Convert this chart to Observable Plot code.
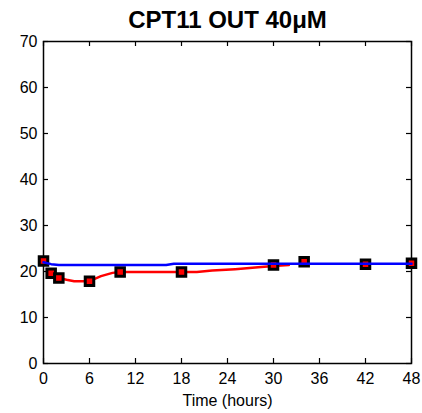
<!DOCTYPE html>
<html>
<head>
<meta charset="utf-8">
<script src="https://cdn.jsdelivr.net/npm/d3@7"></script>
<script src="https://cdn.jsdelivr.net/npm/@observablehq/plot@0.6"></script>
<style>
  html, body { margin: 0; padding: 0; background: #fff; }
</style>
</head>
<body>
<div id="chart"></div>
<script>
const title = "CPT11 OUT 40μM";
const xLabel = "Time (hours)";
const xTicks = [0, 6, 12, 18, 24, 30, 36, 42, 48];
const yTicks = [0, 10, 20, 30, 40, 50, 60, 70];

// measured points (red squares)
const pointTime = [0, 1, 2, 6, 10, 18, 30, 34, 42, 48];
const pointValue = [22.3, 19.6, 18.6, 17.9, 19.9, 19.9, 21.4, 22.1, 21.6, 21.8];

// red fitted curve
const redTime = [1, 2, 3, 4, 6, 7.5, 9, 10, 20, 22, 25, 28, 30, 32];
const redValue = [19.6, 18.6, 18.2, 17.9, 17.9, 19.0, 19.7, 19.9, 19.9, 20.2, 20.5, 20.9, 21.2, 21.4];

// blue curve
const blueTime = [0, 1, 2, 16, 17, 48];
const blueValue = [22.0, 21.6, 21.4, 21.4, 21.7, 21.7];

const points = pointTime.map((t, i) => ({t, v: pointValue[i]}));
const red = redTime.map((t, i) => ({t, v: redValue[i]}));
const blue = blueTime.map((t, i) => ({t, v: blueValue[i]}));

const W = 422, H = 413;
const mT = 41, mB = 50, mL = 43, mR = 11;
const fh = H - mT - mB, fw = W - mL - mR;
const tk = 5;

const chart = Plot.plot({
  width: W,
  height: H,
  marginTop: mT,
  marginBottom: mB,
  marginLeft: mL,
  marginRight: mR,
  style: {fontFamily: "'Liberation Sans', Arial, sans-serif", fontSize: "16px", color: "#000", background: "#fff"},
  x: {domain: [0, 48], ticks: xTicks, label: null},
  y: {domain: [0, 70], ticks: yTicks, label: null},
  marks: [
    Plot.axisX(xTicks, {tickSize: 0, tickPadding: 9, fontSize: 16, label: null}),
    Plot.axisY(yTicks, {tickSize: 0, tickPadding: 6, fontSize: 16, label: null}),
    // inward ticks on all four sides
    Plot.tickX(xTicks, {x: d => d, insetTop: fh - tk, stroke: "#000", strokeWidth: 1.2}),
    Plot.tickX(xTicks, {x: d => d, insetBottom: fh - tk, stroke: "#000", strokeWidth: 1.2}),
    Plot.tickY(yTicks, {y: d => d, insetRight: fw - tk, stroke: "#000", strokeWidth: 1.2}),
    Plot.tickY(yTicks, {y: d => d, insetLeft: fw - tk, stroke: "#000", strokeWidth: 1.2}),
    Plot.frame({stroke: "#000", strokeWidth: 1.5}),
    Plot.line(red, {x: "t", y: "v", stroke: "#ff0000", strokeWidth: 2.5}),
    Plot.dot(points, {x: "t", y: "v", symbol: "square", r: 4.8, fill: "#ff0000", stroke: "#000", strokeWidth: 3}),
    Plot.line(blue, {x: "t", y: "v", stroke: "#0000ff", strokeWidth: 2.5}),
    Plot.text([title], {frameAnchor: "top", dy: -21, lineAnchor: "middle", fontSize: 24, fontWeight: "bold", fill: "#000"}),
    Plot.text([xLabel], {frameAnchor: "bottom", dy: 37, lineAnchor: "middle", fontSize: 16, fill: "#000"})
  ]
});
document.getElementById("chart").appendChild(chart);
</script>
</body>
</html>
